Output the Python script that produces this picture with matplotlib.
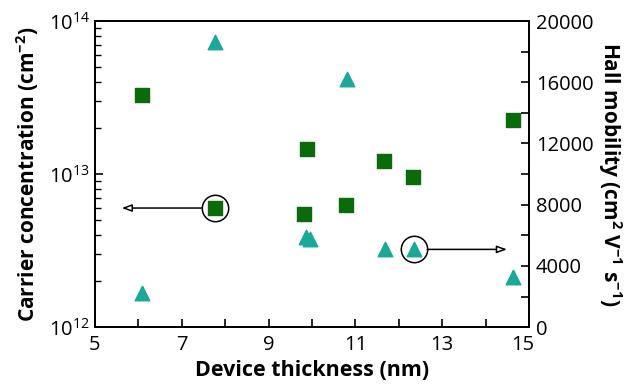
import matplotlib
matplotlib.use("Agg")
import matplotlib.pyplot as plt
import matplotlib.transforms as mtransforms
import numpy as np
from matplotlib.ticker import FixedLocator, FixedFormatter, LogLocator, NullFormatter

plt.rcParams['font.family'] = ['Open Sans', 'DejaVu Sans']
plt.rcParams['mathtext.default'] = 'regular'

# carrier concentration (left, log axis)
conc_thk = [6.08, 7.76, 9.89, 9.82, 10.78, 11.66, 12.33, 14.63]
conc_val = [3.3e13, 6.0e12, 1.45e13, 5.5e12, 6.3e12, 1.22e13, 9.5e12, 2.25e13]

# hall mobility (right axis)
mob_thk = [6.08, 7.76, 9.87, 9.96, 10.81, 11.67, 12.35, 14.63]
mob_val = [2200, 18600, 5900, 5750, 16200, 5080, 5080, 3250]

# circled points and where their arrows point to
circ_conc = (7.76, 6.0e12)
arrow_conc_tip = 5.62
circ_mob = (12.35, 5080)
arrow_mob_tip = 14.49

sq_color = '#0b6b0b'
tri_color = '#1aa898'

fig = plt.figure(figsize=(6.36, 3.89), dpi=100)
ax = fig.add_axes([0.149, 0.159, 0.683, 0.787])
ax2 = ax.twinx()

ax.scatter(conc_thk, conc_val, marker='s', s=95, color=sq_color, zorder=3)
ax2.scatter(mob_thk, mob_val, marker='^', s=110, color=tri_color, zorder=3)

# circles + arrows
ax.plot(*circ_conc, marker='o', ms=19, mfc='none', mec='black', mew=1.1, zorder=4)
ax.annotate('', xy=(arrow_conc_tip, circ_conc[1]), xytext=circ_conc,
            arrowprops=dict(arrowstyle='-|>,head_length=0.6,head_width=0.22', fc='white',
                            ec='black', lw=1.1, shrinkA=9.5, shrinkB=0))
ax2.plot(*circ_mob, marker='o', ms=19, mfc='none', mec='black', mew=1.1, zorder=4)
ax2.annotate('', xy=(arrow_mob_tip, circ_mob[1]), xytext=circ_mob,
             arrowprops=dict(arrowstyle='-|>,head_length=0.6,head_width=0.22', fc='white',
                             ec='black', lw=1.1, shrinkA=9.5, shrinkB=0))

ax.set_xlim(5, 15)
ax.set_yscale('log')
ax.set_ylim(1e12, 1e14)
ax2.set_ylim(0, 20000)

ax.xaxis.set_major_locator(FixedLocator([5, 7, 9, 11, 13, 15]))
ax.xaxis.set_minor_locator(FixedLocator([6, 8, 10, 12, 14]))
ax.yaxis.set_major_locator(FixedLocator([1e12, 1e13, 1e14]))
ax.yaxis.set_major_formatter(FixedFormatter([r'$10^{12}$', r'$10^{13}$', r'$10^{14}$']))
ax.yaxis.set_minor_locator(LogLocator(base=10, subs=np.arange(2, 10)))
ax.yaxis.set_minor_formatter(NullFormatter())
ax2.yaxis.set_major_locator(FixedLocator([0, 4000, 8000, 12000, 16000, 20000]))
ax2.yaxis.set_minor_locator(FixedLocator([2000, 6000, 10000, 14000, 18000]))

ax.tick_params(axis='both', which='both', direction='in', labelsize=14.5, top=False)
ax.tick_params(which='major', length=6, width=1.2)
ax.tick_params(which='minor', length=6, width=1.2, axis='x')
ax.tick_params(which='minor', length=4, width=1.0, axis='y')
ax.tick_params(axis='x', pad=6)
ax2.tick_params(axis='y', which='both', direction='in', labelsize=14.5, length=6, width=1.2, pad=5)

# nudge the "15" a bit left so it clears the right-axis "0"
fig.canvas.draw()
ax.get_xticklabels()[-1].set_transform(
    ax.get_xticklabels()[-1].get_transform()
    + mtransforms.ScaledTranslation(-6 / 100, 0, fig.dpi_scale_trans))

for a in (ax, ax2):
    for s in a.spines.values():
        s.set_linewidth(1.3)

ax.set_xlabel('Device thickness (nm)', fontsize=15.5, fontweight='bold', labelpad=3)
ax.set_ylabel('Carrier concentration (cm$^{-2}$)', fontsize=15, fontweight='bold', labelpad=6)
ax2.set_ylabel('Hall mobility (cm$^{2}$ V$^{-1}$ s$^{-1}$)', fontsize=15, fontweight='bold',
               rotation=270, labelpad=22)

fig.savefig('out.png', dpi=100)
